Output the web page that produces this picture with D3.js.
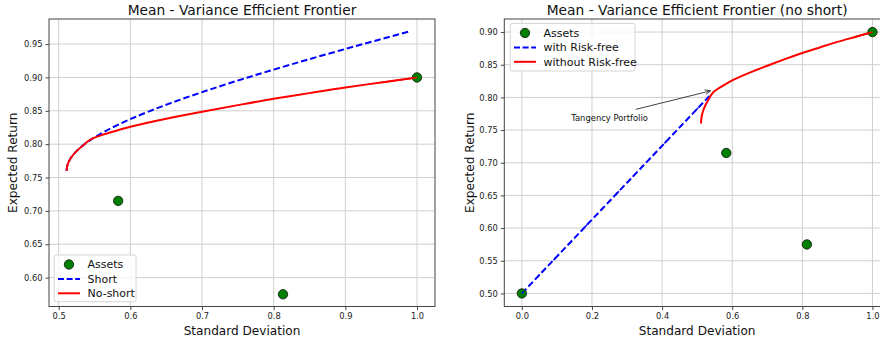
<!DOCTYPE html>
<html>
<head>
<meta charset="utf-8">
<script src="https://cdn.jsdelivr.net/npm/d3@7"></script>
<style>
  html, body { margin: 0; padding: 0; background: #fff; }
  svg { display: block; font-family: "DejaVu Sans", sans-serif; }
</style>
</head>
<body>
<svg id="chart" width="880" height="345"></svg>
<script>
// ---------- data ----------
const assetSd  = [0.583, 0.813, 1.0];
const assetRet = [0.715, 0.575, 0.900];
const riskFreeSd = [0.0];
const riskFreeRet = [0.500];

// efficient frontier with short selling
const shortSd  = [0.511, 0.5126, 0.5174, 0.5253, 0.5361, 0.5497, 0.5660, 0.6053, 0.6524, 0.7057, 0.7639, 0.8260, 0.8911, 0.988];
const shortRet = [0.760, 0.770, 0.780, 0.790, 0.800, 0.810, 0.820, 0.840, 0.860, 0.880, 0.900, 0.920, 0.940, 0.9685];

// efficient frontier without short selling
const noShortSd  = [0.511, 0.5126, 0.5174, 0.5253, 0.5361, 0.546, 0.560, 0.580, 0.600, 0.650, 0.700, 0.750, 0.800, 0.850, 0.900, 0.950, 1.000];
const noShortRet = [0.760, 0.770, 0.780, 0.790, 0.800, 0.808, 0.8135, 0.8200, 0.8260, 0.8380, 0.8485, 0.8585, 0.8680, 0.8765, 0.8850, 0.8925, 0.900];

// capital market line (with risk-free asset)
const cmlSd  = [0.0, 0.540];
const cmlRet = [0.500, 0.805];

// annotation
const tangencyPoint = [0.538, 0.810];
const tangencyText  = [0.141, 0.7635];
const arrowStart    = [0.325, 0.7817];

const leftXTicks  = [0.5, 0.6, 0.7, 0.8, 0.9, 1.0];
const leftYTicks  = [0.60, 0.65, 0.70, 0.75, 0.80, 0.85, 0.90, 0.95];
const rightXTicks = [0.0, 0.2, 0.4, 0.6, 0.8, 1.0];
const rightYTicks = [0.50, 0.55, 0.60, 0.65, 0.70, 0.75, 0.80, 0.85, 0.90];

// ---------- drawing ----------
const svg = d3.select("#chart");
const zip = (a, b) => a.map((v, i) => [v, b[i]]);

function panel(cfg) {
  const x = d3.scaleLinear().domain(cfg.xDomain).range(cfg.xRange);
  const y = d3.scaleLinear().domain(cfg.yDomain).range(cfg.yRange);
  const g = svg.append("g");
  const [x0, x1] = cfg.xRange, [y1, y0] = cfg.yRange;

  // grid
  g.append("g").selectAll("line").data(cfg.xTicks).join("line")
    .attr("x1", d => x(d)).attr("x2", d => x(d)).attr("y1", y0).attr("y2", y1)
    .attr("stroke", "#cfcfcf").attr("stroke-width", 1);
  g.append("g").selectAll("line").data(cfg.yTicks).join("line")
    .attr("x1", x0).attr("x2", x1).attr("y1", d => y(d)).attr("y2", d => y(d))
    .attr("stroke", "#cfcfcf").attr("stroke-width", 1);

  // axes
  const xAxis = d3.axisBottom(x).tickValues(cfg.xTicks).tickFormat(d3.format(cfg.xFmt)).tickSize(3.5).tickPadding(3);
  const yAxis = d3.axisLeft(y).tickValues(cfg.yTicks).tickFormat(d3.format(cfg.yFmt)).tickSize(3.5).tickPadding(3);
  const gx = g.append("g").attr("transform", `translate(0,${y1})`).call(xAxis);
  const gy = g.append("g").attr("transform", `translate(${x0},0)`).call(yAxis);
  [gx, gy].forEach(a => {
    a.select(".domain").remove();
    a.selectAll(".tick line").attr("stroke", "#333").attr("stroke-width", 0.9);
    a.selectAll(".tick text").attr("fill", "#222").style("font-size", "8.3px").style("font-family", "DejaVu Sans");
  });

  // content clip
  const clipId = "clip" + cfg.id;
  svg.append("clipPath").attr("id", clipId).append("rect")
    .attr("x", x0).attr("y", y0).attr("width", x1 - x0).attr("height", y1 - y0);
  const c = g.append("g").attr("clip-path", `url(#${clipId})`);

  const line = d3.line().x(d => x(d[0])).y(d => y(d[1])).curve(d3.curveMonotoneY);
  const straight = d3.line().x(d => x(d[0])).y(d => y(d[1]));

  cfg.draw(c, x, y, line, straight);

  // spines
  g.append("rect").attr("x", x0).attr("y", y0).attr("width", x1 - x0).attr("height", y1 - y0)
    .attr("fill", "none").attr("stroke", "#444").attr("stroke-width", 1);

  // labels
  g.append("text").attr("x", (x0 + x1) / 2).attr("y", 15).attr("text-anchor", "middle")
    .style("font-size", "13.8px").attr("fill", "#111").text(cfg.title);
  g.append("text").attr("x", (x0 + x1) / 2).attr("y", 334.5).attr("text-anchor", "middle")
    .style("font-size", "12.1px").attr("fill", "#111").text("Standard Deviation");
  g.append("text").attr("transform", `translate(${cfg.yLabelX},${(y0 + y1) / 2}) rotate(-90)`)
    .attr("text-anchor", "middle").attr("dy", "0.35em")
    .style("font-size", "12.1px").attr("fill", "#111").text("Expected Return");

  // legend
  const L = cfg.legend;
  const lg = g.append("g");
  lg.append("rect").attr("x", L.x).attr("y", L.y).attr("width", L.w).attr("height", L.h)
    .attr("rx", 2).attr("fill", "rgba(255,255,255,0.8)").attr("stroke", "#d6d6d6").attr("stroke-width", 1);
  L.items.forEach((it, i) => {
    const yy = L.y + 9.5 + i * 14.4;
    const lx = L.x + 3.7;
    if (it.type === "marker") {
      lg.append("circle").attr("cx", lx + 11).attr("cy", yy).attr("r", 4.7)
        .attr("fill", "green").attr("stroke", "#111").attr("stroke-width", 0.8);
    } else {
      lg.append("line").attr("x1", lx).attr("x2", lx + 22).attr("y1", yy).attr("y2", yy)
        .attr("stroke", it.color).attr("stroke-width", 2)
        .attr("stroke-dasharray", it.dash ? "6,2.6" : null);
    }
    lg.append("text").attr("x", lx + 29.5).attr("y", yy).attr("dy", "0.36em")
      .style("font-size", "11px").attr("fill", "#111").text(it.label);
  });
  return { x, y, g };
}

function assets(c, x, y, sd, ret) {
  c.selectAll("circle.asset").data(zip(sd, ret)).join("circle").attr("class", "asset")
    .attr("cx", d => x(d[0])).attr("cy", d => y(d[1])).attr("r", 4.7)
    .attr("fill", "green").attr("stroke", "#111").attr("stroke-width", 0.8);
}

// left panel
panel({
  id: "L",
  title: "Mean - Variance Efficient Frontier",
  xDomain: [0.4865, 1.0251], xRange: [49, 435],
  yDomain: [0.5567, 0.9876], yRange: [306.5, 19],
  xTicks: leftXTicks, yTicks: leftYTicks, xFmt: ".1f", yFmt: ".2f",
  yLabelX: 12.7,
  legend: { x: 54.3, y: 255, w: 81.7, h: 46.7, items: [
    { type: "marker", label: "Assets" },
    { type: "line", color: "blue", dash: true, label: "Short" },
    { type: "line", color: "red", dash: false, label: "No-short" } ] },
  draw: (c, x, y, line) => {
    c.append("path").datum(zip(shortSd, shortRet)).attr("d", line)
      .attr("fill", "none").attr("stroke", "blue").attr("stroke-width", 2).attr("stroke-dasharray", "6.5,3");
    c.append("path").datum(zip(noShortSd, noShortRet)).attr("d", line)
      .attr("fill", "none").attr("stroke", "red").attr("stroke-width", 2);
    assets(c, x, y, assetSd, assetRet);
    c.append("path").datum(zip(noShortSd.slice(-2), noShortRet.slice(-2))).attr("d", line)
      .attr("fill", "none").attr("stroke", "red").attr("stroke-width", 1.5);
  }
});

// right panel
panel({
  id: "R",
  title: "Mean - Variance Efficient Frontier (no short)",
  xDomain: [-0.05, 1.05], xRange: [504.3, 890],
  yDomain: [0.48, 0.92], yRange: [306.5, 19],
  xTicks: rightXTicks, yTicks: rightYTicks, xFmt: ".1f", yFmt: ".2f",
  yLabelX: 469.3,
  legend: { x: 510.3, y: 23.5, w: 124.7, h: 47.5, items: [
    { type: "marker", label: "Assets" },
    { type: "line", color: "blue", dash: true, label: "with Risk-free" },
    { type: "line", color: "red", dash: false, label: "without Risk-free" } ] },
  draw: (c, x, y, line, straight) => {
    c.append("path").datum(zip(cmlSd, cmlRet)).attr("d", straight)
      .attr("fill", "none").attr("stroke", "blue").attr("stroke-width", 2).attr("stroke-dasharray", "6.5,3");
    c.append("path").datum(zip(noShortSd, noShortRet)).attr("d", line)
      .attr("fill", "none").attr("stroke", "red").attr("stroke-width", 2);
    assets(c, x, y, riskFreeSd.concat(assetSd), riskFreeRet.concat(assetRet));
    c.append("path").datum(zip(noShortSd.slice(-2), noShortRet.slice(-2))).attr("d", line)
      .attr("fill", "none").attr("stroke", "red").attr("stroke-width", 1.5);
    c.append("path").datum(zip(cmlSd, cmlRet)).attr("d", straight)
      .attr("fill", "none").attr("stroke", "blue").attr("stroke-width", 1.5).attr("stroke-dasharray", "3,20");

    // annotation
    c.append("text").attr("x", x(tangencyText[0])).attr("y", y(tangencyText[1]))
      .style("font-size", "8.4px").attr("fill", "#111").text("Tangency Portfolio");
    const sx = x(arrowStart[0]), sy = y(arrowStart[1]);
    const ex = x(tangencyPoint[0]), ey = y(tangencyPoint[1]);
    c.append("line").attr("x1", sx).attr("y1", sy).attr("x2", ex).attr("y2", ey)
      .attr("stroke", "#111").attr("stroke-width", 0.8);
    const ang = Math.atan2(ey - sy, ex - sx);
    const hl = 6, ha = 0.42;
    c.append("path")
      .attr("d", `M${ex - hl * Math.cos(ang - ha)},${ey - hl * Math.sin(ang - ha)} L${ex},${ey} L${ex - hl * Math.cos(ang + ha)},${ey - hl * Math.sin(ang + ha)}`)
      .attr("fill", "none").attr("stroke", "#111").attr("stroke-width", 0.8);
  }
});
</script>
</body>
</html>
